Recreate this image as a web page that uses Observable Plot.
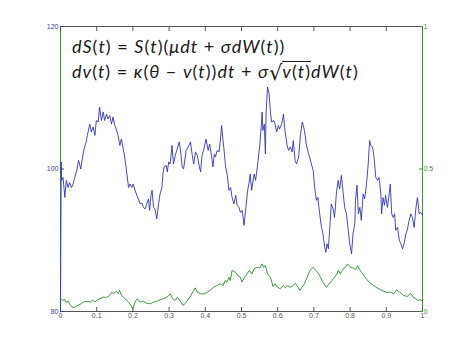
<!DOCTYPE html>
<html><head><meta charset="utf-8">
<script src="https://cdn.jsdelivr.net/npm/d3@7"></script>
<script src="https://cdn.jsdelivr.net/npm/@observablehq/plot@0.6"></script>
<style>
body{margin:0;background:#fff;}
#wrap{position:relative;width:466px;height:350px;}
.eq{position:absolute;left:72px;font-family:Lato,"Open Sans",sans-serif;font-size:18px;letter-spacing:1px;color:#1a1a1a;white-space:nowrap;line-height:1;}
.eq i{font-style:italic;}
.sq{display:inline-block;font-family:"DejaVu Sans",sans-serif;font-size:21px;line-height:1;letter-spacing:0;transform:translateY(2px);}
.rad{display:inline-block;border-top:1px solid #1a1a1a;line-height:1.05;}
</style></head><body><div id="wrap"></div>
<script>
// Price path S(t) (left axis)
const tS = [0,0.002,0.003,0.007,0.012,0.016,0.021,0.025,0.030,0.035,0.039,0.044,0.050,0.056,0.059,0.065,0.071,0.074,0.081,0.085,0.090,0.095,0.099,0.104,0.108,0.113,0.118,0.122,0.127,0.131,0.136,0.141,0.145,0.150,0.154,0.159,0.164,0.168,0.176,0.181,0.188,0.192,0.197,0.201,0.206,0.211,0.215,0.220,0.225,0.229,0.234,0.238,0.243,0.246,0.250,0.253,0.257,0.261,0.266,0.271,0.275,0.280,0.283,0.286,0.292,0.295,0.299,0.303,0.308,0.312,0.317,0.321,0.328,0.333,0.336,0.340,0.347,0.353,0.359,0.364,0.368,0.373,0.378,0.382,0.387,0.391,0.396,0.402,0.408,0.412,0.417,0.421,0.425,0.428,0.433,0.438,0.442,0.445,0.449,0.452,0.456,0.461,0.465,0.470,0.474,0.479,0.484,0.488,0.493,0.497,0.502,0.507,0.512,0.517,0.521,0.524,0.528,0.532,0.535,0.539,0.543,0.546,0.550,0.554,0.557,0.559,0.563,0.566,0.568,0.572,0.576,0.580,0.583,0.589,0.593,0.597,0.602,0.605,0.611,0.616,0.620,0.626,0.630,0.635,0.640,0.643,0.648,0.652,0.658,0.663,0.668,0.674,0.679,0.684,0.688,0.693,0.698,0.702,0.707,0.711,0.716,0.721,0.725,0.730,0.733,0.736,0.740,0.744,0.748,0.753,0.757,0.762,0.767,0.771,0.776,0.781,0.785,0.790,0.794,0.799,0.804,0.808,0.813,0.815,0.819,0.823,0.827,0.831,0.836,0.840,0.845,0.850,0.854,0.857,0.862,0.866,0.871,0.876,0.880,0.885,0.887,0.891,0.895,0.898,0.903,0.908,0.911,0.915,0.919,0.923,0.926,0.931,0.936,0.940,0.945,0.949,0.954,0.958,0.963,0.968,0.972,0.977,0.981,0.986,0.991,0.995,1.000];
const S = [80,101.0,98.4,98.8,96.0,98.4,97.4,98.1,97.4,97.9,98.8,99.6,101.2,100.0,101.0,102.8,103.8,104.7,106.3,105.2,105.9,104.7,106.8,106.6,108.7,106.8,108.0,106.8,107.7,107.0,107.5,106.3,107.3,106.1,105.6,104.7,103.3,104.2,102.1,100.3,97.4,97.9,97.4,97.9,97.0,96.3,95.8,95.1,95.2,94.6,94.4,95.1,95.8,94.2,96.3,97.0,94.6,94.4,93.0,95.1,96.5,97.4,99.3,100.3,100.5,99.6,101.0,100.7,103.3,100.7,101.9,102.6,103.8,101.9,100.3,100.0,102.6,103.1,103.8,101.9,100.7,102.4,101.9,100.7,99.6,101.9,102.8,104.2,102.6,103.5,101.9,100.3,102.1,101.7,102.6,102.4,104.2,106.1,104.0,102.6,100.3,99.1,97.0,97.4,96.0,95.1,96.3,94.9,94.6,93.9,94.2,92.1,94.6,97.0,98.1,99.3,97.0,98.4,99.3,98.4,100.0,101.2,103.1,105.6,108.0,105.4,106.3,102.1,108.0,111.5,110.6,108.0,106.6,106.8,106.3,105.2,106.1,105.6,106.3,107.7,105.4,103.3,102.6,103.1,102.4,104.0,101.2,100.7,101.7,104.9,106.6,105.4,103.5,102.4,101.7,100.7,99.8,97.4,95.6,96.0,93.7,91.8,90.9,89.0,88.3,89.5,88.8,91.8,95.1,94.4,93.2,96.5,98.4,97.2,99.1,96.5,94.6,93.7,91.8,89.5,88.1,90.9,92.3,95.6,97.7,93.7,94.6,92.8,96.5,95.8,97.7,100.7,104.0,103.3,103.1,101.7,98.8,98.4,98.8,96.5,93.7,96.0,94.9,96.3,94.6,96.5,97.9,93.7,93.2,93.7,91.4,91.8,90.0,89.5,88.8,89.5,90.9,91.4,92.8,93.7,93.2,91.8,94.2,96.0,93.7,93.9,93.5];
// Variance path v(t) (right axis)
const tV = [0,0.001,0.006,0.011,0.015,0.022,0.028,0.035,0.043,0.054,0.063,0.072,0.082,0.089,0.095,0.102,0.109,0.118,0.128,0.135,0.142,0.146,0.154,0.160,0.163,0.169,0.178,0.188,0.195,0.200,0.206,0.212,0.220,0.229,0.238,0.248,0.257,0.266,0.275,0.284,0.294,0.303,0.310,0.317,0.323,0.331,0.338,0.345,0.354,0.363,0.372,0.378,0.386,0.397,0.406,0.415,0.423,0.432,0.441,0.449,0.455,0.460,0.465,0.469,0.474,0.483,0.492,0.497,0.501,0.508,0.515,0.522,0.529,0.535,0.543,0.550,0.557,0.561,0.566,0.572,0.580,0.587,0.593,0.600,0.607,0.615,0.621,0.627,0.635,0.642,0.649,0.653,0.661,0.667,0.674,0.681,0.690,0.698,0.704,0.710,0.718,0.725,0.734,0.742,0.750,0.757,0.764,0.768,0.773,0.781,0.787,0.793,0.801,0.808,0.815,0.821,0.828,0.838,0.847,0.856,0.865,0.875,0.884,0.893,0.902,0.911,0.921,0.928,0.934,0.941,0.948,0.958,0.967,0.974,0.981,0.987,0.994,1.000];
const V = [0.050,0.045,0.039,0.042,0.033,0.035,0.021,0.013,0.018,0.025,0.033,0.036,0.033,0.039,0.033,0.041,0.045,0.050,0.050,0.056,0.068,0.062,0.071,0.064,0.074,0.056,0.045,0.033,0.021,0.009,0.033,0.045,0.033,0.036,0.029,0.027,0.033,0.036,0.041,0.045,0.050,0.062,0.045,0.039,0.050,0.036,0.021,0.029,0.045,0.062,0.083,0.068,0.062,0.062,0.068,0.076,0.085,0.091,0.097,0.091,0.109,0.103,0.120,0.109,0.144,0.138,0.123,0.120,0.103,0.120,0.132,0.144,0.132,0.150,0.155,0.153,0.167,0.155,0.161,0.132,0.120,0.088,0.097,0.085,0.080,0.091,0.083,0.091,0.085,0.091,0.099,0.091,0.074,0.085,0.097,0.120,0.146,0.155,0.146,0.138,0.120,0.103,0.085,0.097,0.109,0.120,0.132,0.144,0.132,0.150,0.155,0.167,0.155,0.153,0.146,0.161,0.144,0.126,0.111,0.099,0.091,0.083,0.076,0.071,0.067,0.068,0.062,0.076,0.071,0.064,0.056,0.053,0.064,0.050,0.045,0.039,0.041,0.036];
// Axis ticks
const xTicks = [0,0.1,0.2,0.3,0.4,0.5,0.6,0.7,0.8,0.9,1];
const leftTicks = [80,100,120];
const rightTicks = [0,0.5,1];

const leftDomain = [leftTicks[0], leftTicks[leftTicks.length-1]];
const rightDomain = [rightTicks[0], rightTicks[rightTicks.length-1]];
const toLeft = v => leftDomain[0] + (v - rightDomain[0]) / (rightDomain[1]-rightDomain[0]) * (leftDomain[1]-leftDomain[0]);
const toRight = y => rightDomain[0] + (y - leftDomain[0]) / (leftDomain[1]-leftDomain[0]) * (rightDomain[1]-rightDomain[0]);

const sData = tS.map((t,i)=>({t, s:S[i]}));
const vData = tV.map((t,i)=>({t, v:V[i]}));

const BLUE_TXT = "#3a3aa0", GREEN = "#3f8f3f", GRAY = "#555";

const chart = Plot.plot({
  width:466, height:350,
  marginLeft:60, marginRight:44, marginTop:26, marginBottom:39,
  style:{background:"#fff", fontFamily:"'Liberation Sans', Arial, sans-serif", fontSize:"7px"},
  x:{domain:[xTicks[0], xTicks[xTicks.length-1]], label:null},
  y:{domain:leftDomain, label:null},
  marks:[
    Plot.ruleY(leftDomain, {stroke:GRAY, strokeWidth:1}),
    Plot.ruleX([xTicks[0], xTicks[xTicks.length-1]], {stroke:GREEN, strokeWidth:1}),
    Plot.axisX(xTicks, {anchor:"bottom", tickSize:-4, tickPadding:6, color:GRAY, label:null, tickFormat:d=>String(d)}),
    Plot.axisX(xTicks, {anchor:"top", tickSize:-4, color:GRAY, label:null, tickFormat:()=>""}),
    Plot.axisY(leftTicks, {anchor:"left", tickSize:-4, tickPadding:6, color:BLUE_TXT, label:null}),
    Plot.axisY(rightTicks.map(toLeft), {anchor:"right", tickSize:-4, tickPadding:5, color:GREEN, label:null, tickFormat:d=>String(toRight(d))}),
    Plot.line(sData, {x:"t", y:"s", stroke:"#3333b5", strokeWidth:0.9}),
    Plot.line(vData, {x:"t", y:d=>toLeft(d.v), stroke:"#2e8a2e", strokeWidth:0.9})
  ]
});
const wrap = document.getElementById("wrap");
wrap.appendChild(chart);
const eq1 = document.createElement("div");
eq1.className = "eq"; eq1.style.top = "37px";
eq1.innerHTML = '<i>dS</i>(<i>t</i>) = <i>S</i>(<i>t</i>)(<i>μdt</i> + <i>σdW</i>(<i>t</i>))';
const eq2 = document.createElement("div");
eq2.className = "eq"; eq2.style.top = "61px";
eq2.innerHTML = '<i>dv</i>(<i>t</i>) = <i>κ</i>(<i>θ</i> − <i>v</i>(<i>t</i>))<i>dt</i> + <i>σ</i><span class="sq">√</span><span class="rad"><i>v</i>(<i>t</i>)</span><i>dW</i>(<i>t</i>)';
wrap.appendChild(eq1); wrap.appendChild(eq2);
</script>
</body></html>
